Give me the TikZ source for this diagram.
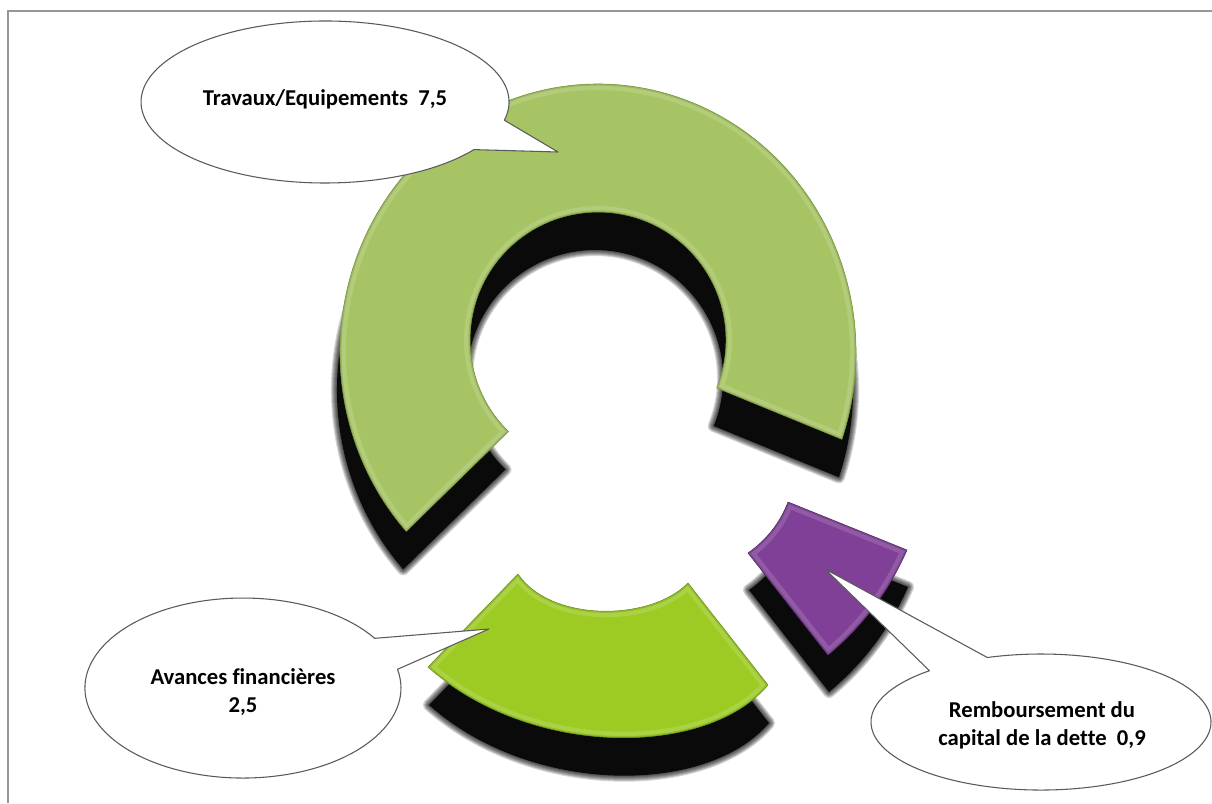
\documentclass[tikz,border=0pt]{standalone}
\usepackage{fontspec}
\setmainfont{Carlito}[Ligatures={NoCommon}]
\usetikzlibrary{calc}
\definecolor{bigg}{RGB}{167,196,101}
\definecolor{bigd}{RGB}{115,145,55}
\definecolor{limeg}{RGB}{157,203,36}
\definecolor{limed}{RGB}{105,145,15}
\definecolor{purp}{RGB}{128,64,151}
\definecolor{purpd}{RGB}{85,38,105}
\definecolor{framec}{RGB}{150,150,150}
\definecolor{calloutc}{RGB}{90,90,90}
\def\bigseg{(841.9,439.3) arc[start angle=19, end angle=-222, x radius=258, y radius=268] -- (508.5,431.5) arc[start angle=-225.6, end angle=22, x radius=128, y radius=128] -- cycle}
\def\avseg{(518,574) .. controls (550,622) and (650,622) .. (688,583) -- (768,685) .. controls (706,758) and (530,758) .. (428,667) -- cycle}
\def\puseg{(788,502) -- (907,550) .. controls (889,591) and (863,626) .. (828,655) -- (748,553) .. controls (766.5,540) and (780,523) .. (788,502) -- cycle}
\newcommand\myshadow[2]{%
  \foreach \w in {9,7.5,6,4.5,3,1.5}{\path[draw=black, draw opacity=0.16, line width=\w pt, line join=round, shift={#2}] #1;}%
  \fill[black!96, shift={#2}] #1;}
\newcommand\mysegment[3]{%
  \fill[#2] #1;
  \begin{scope}\clip #1;
    \draw[white, opacity=0.14, line width=9pt, line join=round] #1;
    \draw[#3, opacity=0.35, line width=2.5pt, line join=round] #1;
  \end{scope}
  \draw[#3, line width=0.4pt, line join=round] #1;}
\tikzset{
  callout/.style={draw=calloutc, fill=white, line width=0.8pt, line join=round},
  lbl/.style={font=\fontsize{17}{21}\selectfont\bfseries, text=black, inner sep=0pt}
}
\begin{document}
\begin{tikzpicture}[x=0.75pt, y=-0.75pt]
\fill[white] (0,0) rectangle (1212,803);
\useasboundingbox (0,0) rectangle (1212,803);
\draw[framec, line width=1.5pt] (7.5,803) -- (7.5,11) -- (1212,11);
% shadows
\myshadow{\bigseg}{(-3,38)}
\myshadow{\avseg}{(1,38)}
\myshadow{\puseg}{(1,37)}
% segments
\mysegment{\bigseg}{bigg}{bigd}
\mysegment{\avseg}{limeg}{limed}
\mysegment{\puseg}{purp}{purpd}
% callouts
\draw[callout] (558,152) -- (473.9,149.6) arc[start angle=36, end angle=373, x radius=184, y radius=81] -- cycle;
\draw[callout] (489,629) -- (397.5,669.3) arc[start angle=-12, end angle=326.5, x radius=158, y radius=90] -- cycle;
\draw[callout] (825,569) -- (987.3,657.5) arc[start angle=251.6, end angle=589, x radius=170, y radius=68] -- cycle;
% labels
\node[lbl, anchor=base] (t1) at (325,105) {Travaux/Equipements\ \ 7,5};
\node[lbl, align=center] (t2) at (243,692) {Avances financières\\2,5};
\node[lbl, align=center] (t3) at (1042,725) {Remboursement du\\capital de la dette\ \ 0,9};
\end{tikzpicture}
\end{document}
